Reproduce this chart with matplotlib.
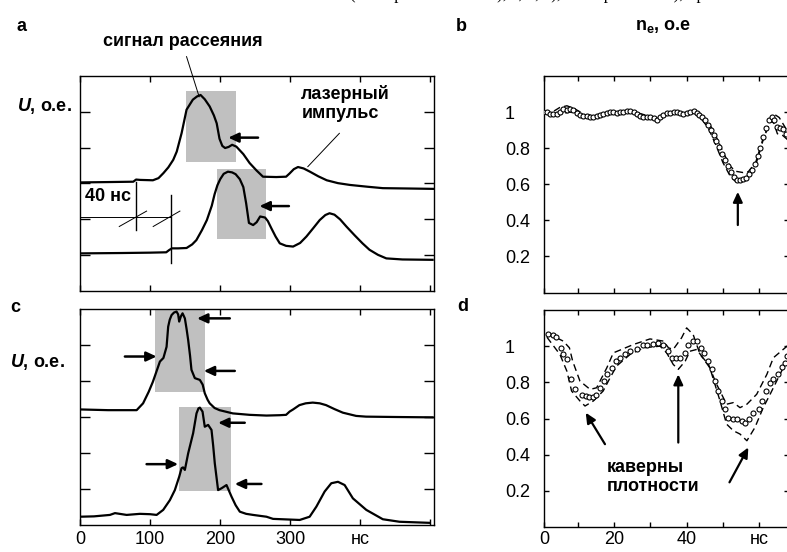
import matplotlib
matplotlib.use('Agg')
import matplotlib.pyplot as plt
from matplotlib.patches import Rectangle

plt.rcParams['font.family'] = ['Liberation Sans', 'DejaVu Sans']
plt.rcParams['mathtext.fontset'] = 'custom'
plt.rcParams['mathtext.rm'] = 'Liberation Sans:bold'
plt.rcParams['mathtext.it'] = 'Liberation Sans:bold:italic'

# ---- panel a: two oscillograms (ns, arb. units) ----
a1_x = [0, 40, 76, 80, 86, 104, 112, 119, 126, 133, 138, 145, 152, 161, 167, 172, 178, 185, 191, 195,
        199, 203, 207, 212, 217, 223, 233, 242, 252, 261, 280, 294, 299, 305, 311, 319, 328, 340, 352,
        368, 385, 410, 432, 470, 504]
a1_y = [3.03, 3.04, 3.05, 3.11, 3.10, 3.09, 3.15, 3.29, 3.45, 3.66, 3.89, 4.41, 5.06, 5.34, 5.43, 5.47,
        5.35, 5.15, 4.90, 4.68, 4.25, 4.05, 3.99, 4.02, 4.08, 4.03, 3.82, 3.57, 3.36, 3.19, 3.18, 3.19,
        3.28, 3.40, 3.46, 3.42, 3.33, 3.20, 3.09, 3.01, 2.96, 2.91, 2.87, 2.86, 2.85]
a2_x = [2, 60, 100, 123, 127, 131, 140, 152, 160, 166, 174, 181, 188, 192, 196, 200, 205, 211, 217, 222,
        228, 233, 237, 241, 247, 252, 257, 264, 268, 273, 279, 285, 294, 304, 314, 323, 333, 342, 350,
        356, 363, 371, 380, 392, 403, 413, 425, 437, 460, 503]
a2_y = [1.05, 1.06, 1.07, 1.08, 1.14, 1.19, 1.19, 1.20, 1.30, 1.42, 1.70, 1.98, 2.38, 2.70, 2.95, 3.12,
        3.27, 3.33, 3.31, 3.26, 3.12, 2.90, 2.45, 1.90, 1.84, 1.92, 2.08, 2.05, 1.95, 1.75, 1.52, 1.33,
        1.26, 1.24, 1.34, 1.52, 1.76, 1.98, 2.12, 2.17, 2.13, 2.00, 1.80, 1.55, 1.33, 1.15, 1.01, 0.91,
        0.88, 0.87]
a_boxes = [(151, 222, 3.61, 5.59), (195, 266, 1.44, 3.41)]
a_arrows = [((254, 4.28), (211.5, 4.28)), ((298, 2.37), (256, 2.37))]

# ---- panel c ----
c1_x = [0, 40, 80.8, 90, 98, 104, 109, 114, 119, 123.5, 125.8, 128, 130.6, 134, 137.7, 140, 141.5, 144,
        146.3, 149.6, 152, 154.3, 157, 159, 163.8, 171, 175, 178, 182, 185, 192, 199, 218, 242, 266, 285,
        294, 299, 304, 313, 322, 332, 342, 351, 363, 375, 394, 408, 450, 503]
c1_y = [3.21, 3.19, 3.19, 3.38, 3.70, 3.98, 4.26, 4.54, 4.64, 4.95, 5.51, 5.70, 5.83, 5.90, 5.93, 5.85,
        5.65, 5.80, 5.88, 5.74, 5.45, 5.14, 4.70, 4.31, 4.08, 4.03, 3.90, 3.66, 3.48, 3.38, 3.25, 3.19,
        3.10, 3.06, 3.04, 3.05, 3.06, 3.15, 3.21, 3.33, 3.38, 3.40, 3.38, 3.33, 3.22, 3.12, 3.03, 3.01,
        3.00, 2.99]
c2_x = [0, 20, 42.7, 49.9, 66.5, 85.5, 100, 109.3, 118.7, 128.2, 135.3, 141.5, 144.9, 147, 149.6, 154.3,
        161.4, 166.2, 169, 171, 174.8, 178, 182.8, 187.6, 190, 192.3, 197, 201.9, 209, 216.1, 222, 228,
        237, 246.9, 266, 275.4, 313.4, 327.6, 337.2, 349, 358.5, 368, 377.5, 389.3, 408.4, 432, 455.8,
        498.6]
c2_y = [0.23, 0.24, 0.28, 0.33, 0.28, 0.31, 0.30, 0.28, 0.42, 0.69, 0.97, 1.34, 1.58, 1.60, 1.53, 1.99,
        2.55, 3.10, 3.24, 3.26, 3.15, 2.73, 2.78, 2.64, 2.20, 1.71, 0.97, 1.02, 1.11, 0.79, 0.55, 0.37,
        0.31, 0.28, 0.23, 0.17, 0.14, 0.23, 0.51, 0.93, 1.16, 1.20, 1.11, 0.74, 0.42, 0.16, 0.09, 0.06]
c_boxes = [(106.8, 179, 3.70, 6.0), (141, 215, 0.95, 3.27)]
c_arrows = [((213.7, 5.74), (167, 5.74)), ((64, 4.68), (109.3, 4.68)), ((220.8, 4.28), (176.6, 4.28)),
            ((235, 2.84), (197, 2.84)), ((95, 1.69), (140, 1.69)), ((258.8, 1.14), (220.8, 1.14))]

# ---- panel b: n_e (circles) with dashed bounds ----
b_x = [0.5, 1.5, 2.4, 3.3, 4.2, 5.1, 6.0, 7.0, 8.0, 8.8, 9.7, 10.6, 11.5, 12.5, 13.4, 14.3, 15.2, 16.1,
       17.0, 18.0, 18.9, 19.8, 20.8, 21.7, 22.6, 23.5, 24.4, 25.4, 26.3, 27.2, 28.1, 29.0, 30.0, 30.9,
       31.8, 32.7, 33.6, 34.5, 35.5, 36.4, 37.3, 38.2, 39.1, 40.0, 41.0, 42.0, 42.8, 43.5, 44.2, 45.0,
       45.8, 46.6, 47.4, 48.2, 49.0, 49.8, 50.6, 51.4, 52.2, 53.0, 53.8, 54.6, 55.5, 56.4, 57.2, 58.0,
       58.8, 59.6, 60.3, 61.1, 61.9, 62.7, 63.5, 64.2, 65.0, 65.8, 66.6, 67.4]
b_y = [1.00, 1.00, 0.99, 0.99, 0.987, 1.0, 1.017, 1.01, 1.015, 1.01, 0.995, 0.985, 0.98, 0.978, 0.972,
       0.972, 0.976, 0.985, 0.99, 0.997, 1.0, 0.998, 0.996, 0.998, 1.0, 1.004, 1.006, 1.0, 0.99, 0.98,
       0.975, 0.972, 0.97, 0.965, 0.958, 0.97, 0.985, 0.993, 0.997, 1.0, 1.0, 0.995, 0.99, 0.993, 1.0,
       1.006, 0.995, 0.985, 0.972, 0.955, 0.93, 0.90, 0.872, 0.84, 0.805, 0.77, 0.734, 0.70, 0.668,
       0.64, 0.625, 0.622, 0.627, 0.635, 0.655, 0.68, 0.71, 0.755, 0.80, 0.86, 0.91, 0.955, 0.975,
       0.955, 0.92, 0.91, 0.905, 0.88]
b_up_x = [0.5, 3, 5, 7, 9, 12, 15, 20, 25, 30, 32, 35, 40, 42, 44, 46, 48, 50, 52, 53.5, 55.5, 57, 59,
          61, 63, 64, 65.5, 67, 68.2]
b_up_y = [1.0, 1.0, 1.025, 1.035, 1.02, 0.985, 0.98, 1.0, 1.005, 0.975, 0.962, 0.995, 0.995, 1.005,
          0.985, 0.945, 0.87, 0.78, 0.70, 0.672, 0.665, 0.67, 0.72, 0.85, 0.95, 0.99, 0.97, 0.92, 0.88]
b_lo_x = [0.5, 3, 5, 8, 12, 15, 20, 25, 30, 32, 35, 40, 42, 44, 46, 48, 50, 52, 53.5, 55, 57, 59, 61,
          63, 64, 65, 66.5, 68.2]
b_lo_y = [0.995, 0.985, 0.99, 1.0, 0.975, 0.968, 0.995, 0.998, 0.965, 0.952, 0.99, 0.988, 0.998, 0.965,
          0.91, 0.82, 0.72, 0.645, 0.615, 0.612, 0.635, 0.705, 0.84, 0.95, 0.94, 0.88, 0.87, 0.84]
b_arrows = [((54.1, 0.374), (54.1, 0.558))]

# ---- panel d ----
d_x = [1.9, 3.1, 4.0, 5.3, 6.0, 7.0, 8.1, 9.3, 11.1, 12.2, 13.2, 14.1, 15.0, 16.1, 17.1, 18.0, 19.4,
       20.6, 21.7, 23.1, 24.4, 26.3, 27.9, 29.0, 30.7, 32.2, 33.6, 35.0, 36.1, 37.1, 38.2, 39.6, 40.5,
       41.8, 42.9, 43.9, 44.8, 46.0, 46.9, 47.8, 48.7, 49.7, 50.6, 51.5, 52.7, 53.8, 55.2, 56.1, 57.3,
       58.4, 59.8, 60.7, 61.9, 63.0, 63.9, 65.3, 66.2, 67.1, 67.7]
d_y = [1.068, 1.064, 1.051, 0.991, 0.958, 0.930, 0.817, 0.761, 0.728, 0.723, 0.719, 0.721, 0.730, 0.770,
       0.807, 0.844, 0.880, 0.917, 0.936, 0.954, 0.972, 0.987, 1.004, 1.009, 1.013, 1.018, 1.009, 0.972,
       0.936, 0.936, 0.936, 0.963, 1.009, 1.028, 1.028, 0.991, 0.963, 0.917, 0.872, 0.807, 0.752, 0.697,
       0.651, 0.605, 0.596, 0.596, 0.587, 0.577, 0.596, 0.633, 0.651, 0.697, 0.752, 0.798, 0.817, 0.844,
       0.884, 0.908, 0.945]
d_up_x = [1.5, 6, 7.7, 8.6, 10.6, 13.4, 15.2, 18, 19.8, 22.1, 25.3, 29.9, 33.6, 35, 36.3, 38.6, 40,
          41.8, 43.7, 46, 48, 50.1, 51, 52.9, 54.7, 56.6, 59.3, 62.1, 63.9, 66.6, 68.2]
d_up_y = [1.073, 1.028, 0.991, 0.917, 0.807, 0.761, 0.770, 0.880, 0.963, 0.982, 1.009, 1.040, 1.028,
          0.991, 0.982, 1.046, 1.101, 1.064, 0.954, 0.90, 0.80, 0.715, 0.679, 0.688, 0.660, 0.679, 0.734,
          0.844, 0.936, 0.982, 1.009]
d_lo_x = [1.5, 5.1, 7, 8.3, 10.6, 12, 14.3, 17, 18.9, 20.7, 24.4, 28.1, 32.7, 34.5, 36.3, 37.7, 39.6,
          40.9, 42.8, 46.4, 49.2, 51, 52.9, 54.7, 56.6, 58.8, 61.1, 63, 64.8, 66.6, 68.2]
d_lo_y = [1.05, 0.954, 0.862, 0.752, 0.697, 0.669, 0.697, 0.752, 0.825, 0.890, 0.954, 0.991, 1.0, 0.963,
          0.899, 0.872, 0.917, 0.972, 0.982, 0.880, 0.697, 0.569, 0.532, 0.514, 0.477, 0.55, 0.660,
          0.734, 0.807, 0.880, 0.927]
d_arrows = [((17.5, 0.458), (12.2, 0.632)), ((37.7, 0.467), (37.7, 0.844)), ((51.8, 0.247), (57.0, 0.44))]

b_yticks = [0.2, 0.4, 0.6, 0.8, 1.0]
b_yticklabels = ['0.2', '0.4', '0.6', '0.8', '1']
c_xticks = [0, 100, 200, 300, 400, 500]
c_xticklabels = ['0', '100', '200', '300', 'нс', '']
d_xticks = [0.7, 10, 20, 30, 40, 50, 60]
d_xticklabels = ['0', '', '20', '', '40', '', 'нс']

W, H = 787, 552
fig = plt.figure(figsize=(W / 100, H / 100), dpi=100)


def add_ax(l, t, r, b):
    return fig.add_axes([l / W, 1 - b / H, (r - l) / W, (b - t) / H])


def arrow(ax, tail, head, lw=1.8):
    ax.annotate('', xy=head, xytext=tail,
                arrowprops=dict(arrowstyle='-|>,head_length=0.6,head_width=0.28', color='black',
                                lw=lw, shrinkA=0, shrinkB=0))


ax_a = add_ax(80, 76, 434, 291)
ax_c = add_ax(80, 309, 434, 525)
ax_b = add_ax(544, 76, 789, 292.5)
ax_d = add_ax(544, 310, 789, 527)

# oscillogram panels
for ax, boxes, curves, arrows in [(ax_a, a_boxes, [(a1_x, a1_y), (a2_x, a2_y)], a_arrows),
                                  (ax_c, c_boxes, [(c1_x, c1_y), (c2_x, c2_y)], c_arrows)]:
    for x0, x1, y0, y1 in boxes:
        ax.add_patch(Rectangle((x0, y0), x1 - x0, y1 - y0, facecolor='#c0c0c0', edgecolor='none', zorder=1))
    for cx, cy in curves:
        ax.plot(cx, cy, color='black', lw=1.6, zorder=3, solid_joinstyle='round')
    for tail, head in arrows:
        arrow(ax, tail, head)
    ax.set_xlim(0, 505)
    ax.set_ylim(0, 6)
    ax.set_xticks(c_xticks)
    ax.set_yticks([1, 2, 3, 4, 5])
    ax.tick_params(direction='in', top=True, right=True, labelleft=False, width=1)
    ax.tick_params(axis='x', length=4)
    ax.tick_params(axis='y', length=7)
    for s in ax.spines.values():
        s.set_linewidth(1.0)

ax_a.tick_params(labelbottom=False)
ax_c.set_xticklabels(c_xticklabels)
ax_c.tick_params(axis='x', labelsize=13, pad=4.3)

# density panels
for ax, (cx, cy), (ux, uy), (lx, ly), arrows in [
        (ax_b, (b_x, b_y), (b_up_x, b_up_y), (b_lo_x, b_lo_y), b_arrows),
        (ax_d, (d_x, d_y), (d_up_x, d_up_y), (d_lo_x, d_lo_y), d_arrows)]:
    ax.plot(ux, uy, color='black', lw=1.0, dashes=(5, 3), zorder=2)
    ax.plot(lx, ly, color='black', lw=1.0, dashes=(5, 3), zorder=2)
    ax.plot(cx, cy, 'o', ms=3.6, mfc='white', mec='black', mew=0.8, zorder=3)
    for tail, head in arrows:
        arrow(ax, tail, head, lw=1.6)
    ax.set_xlim(0.7, 68.2)
    ax.set_ylim(0, 1.2)
    ax.set_xticks(d_xticks)
    ax.set_yticks(b_yticks)
    ax.set_yticklabels(b_yticklabels)
    ax.tick_params(direction='in', top=True, right=True, width=1, length=3.5, labelsize=13)
    ax.tick_params(axis='y', pad=28)
    for lab in ax.get_yticklabels():
        lab.set_horizontalalignment('left')
    for s in ax.spines.values():
        s.set_linewidth(1.0)

ax_b.tick_params(labelbottom=False)
ax_d.set_xticklabels(d_xticklabels)
ax_d.tick_params(axis='x', labelsize=13, pad=2.9)

# annotations
bold = dict(fontsize=13, fontweight='bold')
ax_a.text(146.7, 6.96, 'сигнал рассеяния', ha='center', va='center', clip_on=False, **bold)
ax_a.plot([152, 170], [6.54, 5.42], color='black', lw=0.7, clip_on=False)
ax_a.text(315.8, 5.22, 'лазерный\nимпульс', ha='left', va='center', linespacing=1.15, **bold)
ax_a.plot([370, 325], [4.40, 3.47], color='black', lw=0.7)
ax_a.text(40, 2.63, '40 нс', ha='center', va='center', **bold)
ax_a.plot([0, 129.2], [2.06, 2.06], color='black', lw=0.7)
ax_a.plot([79.3, 79.3], [3.03, 1.70], color='black', lw=1.0)
ax_a.plot([129.2, 129.2], [2.68, 0.79], color='black', lw=1.0)
ax_a.plot([56, 95], [1.80, 2.23], color='black', lw=0.7)
ax_a.plot([104.4, 142.5], [1.80, 2.23], color='black', lw=0.7)
ax_d.text(18.0, 0.279, 'каверны\nплотности', ha='left', va='center', linespacing=1.15, **bold)

# panel letters and axis captions
fig.text(21.7 / W, 1 - 26.7 / H, 'a', ha='center', va='center', **bold)
fig.text(461.7 / W, 1 - 26.7 / H, 'b', ha='center', va='center', **bold)
fig.text(15 / W, 1 - 308 / H, 'c', ha='center', va='center', **bold)
fig.text(462.7 / W, 1 - 306.7 / H, 'd', ha='center', va='center', **bold)
fig.text(16.7 / W, 1 - 106 / H, r'$U$, о.е.', ha='left', va='center', **bold)
fig.text(10 / W, 1 - 361.7 / H, r'$U$, о.е.', ha='left', va='center', **bold)
fig.text(663 / W, 1 - 26.7 / H, r'$\mathrm{n_e}$, о.е', ha='center', va='center', **bold)

# cropped line of page text at the very top (only its lower edge shows)
fig.text(350 / W, 1 + 1 / H, '(экспериментальные), а, б, в), экспериментом), пр', ha='left',
         va='baseline', fontsize=12, family='Liberation Serif', color='black')

fig.savefig('out.png', dpi=100)
